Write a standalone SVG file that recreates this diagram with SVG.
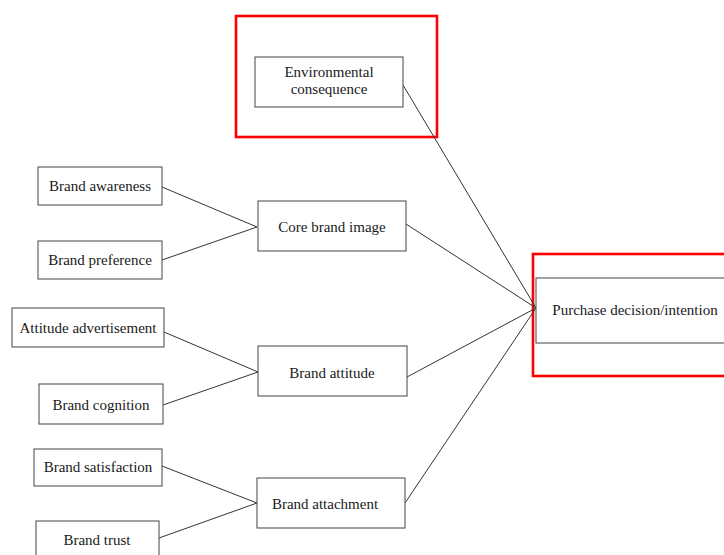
<svg xmlns="http://www.w3.org/2000/svg" width="724" height="555" viewBox="0 0 724 555">
  <style>
    .box { fill: #ffffff; stroke: #555555; stroke-width: 1.1; }
    .hl { fill: none; stroke: #ff0000; stroke-width: 2.6; }
    .lbl { font-family: "Liberation Serif", "Times New Roman", serif; font-size: 15px; fill: #1a1a1a; text-anchor: middle; }
    .edge { stroke: #333333; stroke-width: 1; fill: none; }
  </style>
  <rect width="724" height="555" fill="#ffffff"/>

  <!-- highlight frames -->
  <rect class="hl" x="236" y="16" width="201" height="121"/>
  <rect class="hl" x="533" y="254" width="200" height="122"/>

  <g id="connectors">
    <line class="edge" x1="162" y1="187" x2="257" y2="227"/>
    <line class="edge" x1="162" y1="260" x2="257" y2="227"/>
    <line class="edge" x1="164" y1="332" x2="258" y2="372"/>
    <line class="edge" x1="163" y1="405" x2="258" y2="372"/>
    <line class="edge" x1="162" y1="466" x2="257" y2="503"/>
    <line class="edge" x1="159" y1="538" x2="257" y2="503"/>
    <line class="edge" x1="403" y1="85" x2="536" y2="308"/>
    <line class="edge" x1="406" y1="224" x2="536" y2="308"/>
    <line class="edge" x1="407" y1="377" x2="536" y2="308"/>
    <line class="edge" x1="405" y1="503" x2="536" y2="308"/>
  </g>

  <g id="environmental-consequence">
    <rect class="box" x="255" y="57" width="148" height="50"/>
    <text class="lbl" x="329" y="77">Environmental</text>
    <text class="lbl" x="329" y="94">consequence</text>
  </g>

  <g id="purchase-decision">
    <rect class="box" x="536" y="278" width="200" height="65"/>
    <text class="lbl" x="635" y="315">Purchase decision/intention</text>
  </g>

  <g id="brand-awareness">
    <rect class="box" x="38" y="167" width="124" height="38"/>
    <text class="lbl" x="100" y="191">Brand awareness</text>
  </g>

  <g id="brand-preference">
    <rect class="box" x="38" y="241" width="124" height="38"/>
    <text class="lbl" x="100" y="265">Brand preference</text>
  </g>

  <g id="core-brand-image">
    <rect class="box" x="258" y="201" width="148" height="50"/>
    <text class="lbl" x="332" y="232">Core brand image</text>
  </g>

  <g id="attitude-advertisement">
    <rect class="box" x="12" y="308" width="152" height="39"/>
    <text class="lbl" x="88" y="333">Attitude advertisement</text>
  </g>

  <g id="brand-cognition">
    <rect class="box" x="39" y="384" width="124" height="40"/>
    <text class="lbl" x="101" y="410">Brand cognition</text>
  </g>

  <g id="brand-attitude">
    <rect class="box" x="258" y="346" width="149" height="50"/>
    <text class="lbl" x="332" y="378">Brand attitude</text>
  </g>

  <g id="brand-satisfaction">
    <rect class="box" x="34" y="449" width="128" height="37"/>
    <text class="lbl" x="98" y="472">Brand satisfaction</text>
  </g>

  <g id="brand-trust">
    <rect class="box" x="36" y="521" width="123" height="40"/>
    <text class="lbl" x="97" y="545">Brand trust</text>
  </g>

  <g id="brand-attachment">
    <rect class="box" x="257" y="478" width="148" height="50"/>
    <text class="lbl" x="325" y="509">Brand attachment</text>
  </g>
</svg>
